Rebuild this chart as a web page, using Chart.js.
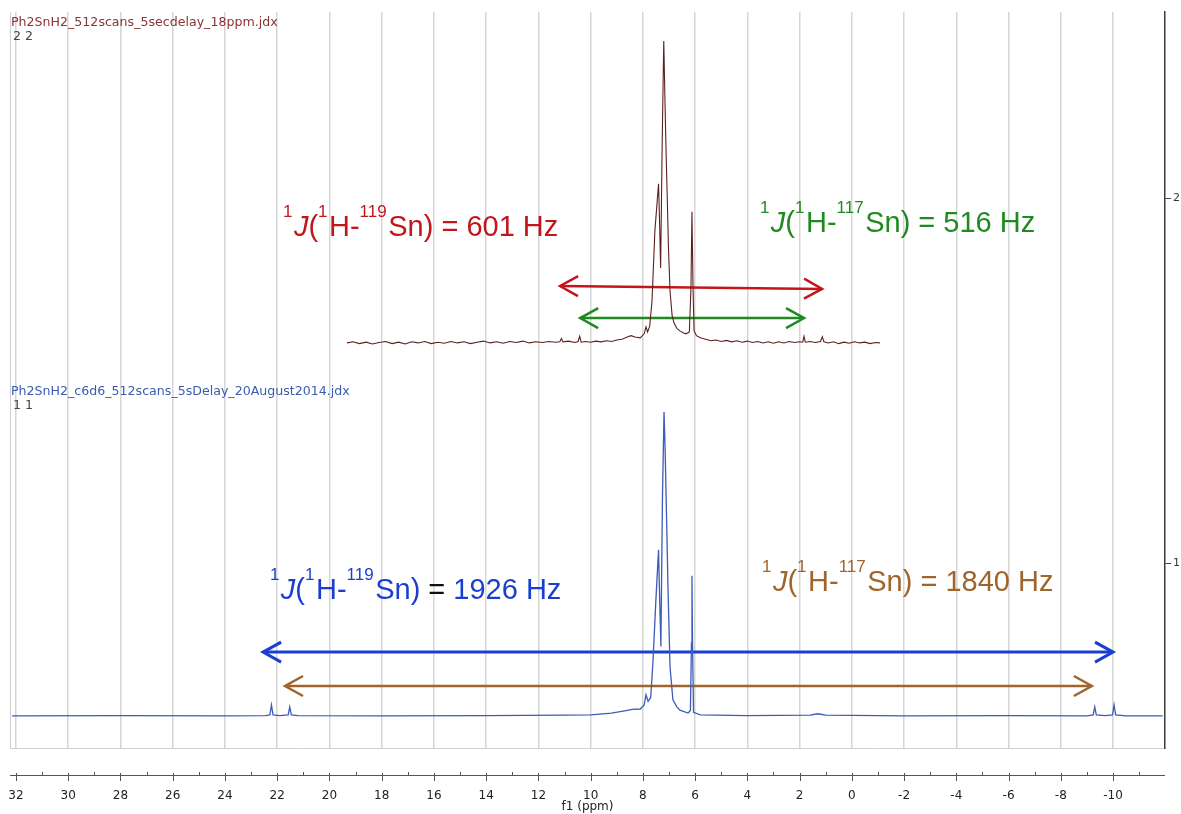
<!DOCTYPE html>
<html>
<head>
<meta charset="utf-8">
<title>Ph2SnH2 1H NMR</title>
<script src="https://cdn.jsdelivr.net/npm/chart.js@4.4.1/dist/chart.umd.min.js"></script>
<style>
html, body { margin: 0; padding: 0; background: #fff; }
</style>
</head>
<body>
<canvas id="nmrChart" width="1181" height="814"></canvas>
<script>
// f1 axis in ppm, shown high -> low
var ppmTicks = [32, 30, 28, 26, 24, 22, 20, 18, 16, 14, 12, 10, 8, 6, 4, 2, 0, -2, -4, -6, -8, -10];
var ppmMin = -11.99;
var ppmMax = 32.23;

// stacked spectra: index on the right axis
var traceTicks = [1, 2];
var traceTickLabels = ['1', '2'];
var traceNames = ['Ph2SnH2_c6d6_512scans_5sDelay_20August2014.jdx', 'Ph2SnH2_512scans_5secdelay_18ppm.jdx'];
var traceIds = ['1 1', '2 2'];
var traceColors = ['#3d5bb8', '#5e1f1f'];
var traceTitleColors = ['#3a5cb0', '#8a3434'];
var traceBaselines = [0.581, 1.603];
var traceTitleLevels = [1.460, 2.471];

// [ppm, intensity above baseline]
var bottomSpectrum = [
  [32.15, 0.000], [28.0, 0.001], [24.0, 0.000], [22.45, 0.001], [22.28, 0.003], [22.22, 0.030],
  [22.16, 0.003], [21.9, 0.001], [21.58, 0.003], [21.52, 0.025], [21.46, 0.003], [21.2, 0.001],
  [18.0, 0.000], [14.0, 0.001], [11.0, 0.002], [10.0, 0.003], [9.2, 0.008], [8.7, 0.014],
  [8.4, 0.018], [8.1, 0.019], [7.95, 0.030], [7.88, 0.058], [7.80, 0.040], [7.70, 0.050],
  [7.61, 0.153], [7.50, 0.320], [7.40, 0.455], [7.36, 0.330], [7.31, 0.190], [7.25, 0.600],
  [7.19, 0.833], [7.15, 0.734], [7.08, 0.500], [7.04, 0.353], [6.96, 0.134], [6.85, 0.044],
  [6.70, 0.025], [6.58, 0.016], [6.27, 0.008], [6.18, 0.015], [6.14, 0.200], [6.12, 0.384],
  [6.10, 0.200], [6.06, 0.010], [5.8, 0.003], [4.0, 0.001], [1.6, 0.002], [1.3, 0.006],
  [1.0, 0.002], [-2.0, 0.000], [-6.0, 0.001], [-9.0, 0.000], [-9.24, 0.003], [-9.30, 0.025],
  [-9.36, 0.003], [-9.7, 0.001], [-9.98, 0.003], [-10.04, 0.030], [-10.10, 0.003], [-10.5, 0.000],
  [-11.9, 0.000]
];

var topSpectrum = [
  [19.33, 0.000], [19.1, 0.003], [18.85, -0.002], [18.6, 0.002], [18.35, -0.003], [18.1, 0.001],
  [17.85, 0.004], [17.6, -0.002], [17.35, 0.002], [17.1, -0.003], [16.85, 0.003], [16.6, 0.000],
  [16.35, 0.004], [16.1, -0.002], [15.85, 0.002], [15.6, -0.001], [15.35, 0.004], [15.1, 0.000],
  [14.85, 0.003], [14.6, -0.002], [14.35, 0.002], [14.1, 0.005], [13.85, 0.000], [13.6, 0.003],
  [13.35, -0.001], [13.1, 0.004], [12.85, 0.001], [12.6, 0.005], [12.35, 0.000], [12.1, 0.003],
  [11.85, 0.001], [11.6, 0.004], [11.35, 0.002], [11.18, 0.003], [11.12, 0.012], [11.06, 0.003],
  [10.85, 0.005], [10.6, 0.001], [10.48, 0.004], [10.42, 0.018], [10.36, 0.002], [10.2, 0.004],
  [10.0, 0.002], [9.8, 0.005], [9.6, 0.003], [9.4, 0.006], [9.2, 0.004], [9.0, 0.008],
  [8.8, 0.010], [8.6, 0.016], [8.45, 0.020], [8.3, 0.016], [8.1, 0.014], [7.95, 0.025],
  [7.88, 0.044], [7.82, 0.030], [7.74, 0.045], [7.65, 0.115], [7.54, 0.307], [7.40, 0.436],
  [7.36, 0.330], [7.32, 0.205], [7.26, 0.550], [7.20, 0.827], [7.15, 0.650], [7.11, 0.518],
  [7.07, 0.408], [7.02, 0.260], [6.96, 0.142], [6.88, 0.075], [6.81, 0.055], [6.70, 0.040],
  [6.58, 0.033], [6.46, 0.028], [6.35, 0.025], [6.22, 0.030], [6.16, 0.150], [6.12, 0.359],
  [6.08, 0.150], [6.04, 0.033], [5.95, 0.020], [5.8, 0.014], [5.6, 0.010], [5.4, 0.006],
  [5.2, 0.008], [5.0, 0.004], [4.8, 0.007], [4.6, 0.003], [4.4, 0.006], [4.2, 0.002],
  [4.0, 0.005], [3.8, 0.001], [3.6, 0.004], [3.4, 0.000], [3.2, 0.003], [3.0, -0.001],
  [2.8, 0.003], [2.6, 0.000], [2.4, 0.004], [2.2, 0.001], [2.0, 0.003], [1.88, 0.002],
  [1.83, 0.018], [1.78, 0.002], [1.6, 0.004], [1.4, 0.001], [1.2, 0.004], [1.13, 0.017],
  [1.07, 0.003], [0.9, 0.000], [0.7, 0.003], [0.5, -0.002], [0.3, 0.002], [0.1, -0.001],
  [-0.1, 0.003], [-0.3, 0.000], [-0.5, 0.002], [-0.7, -0.002], [-0.9, 0.001], [-1.08, 0.000]
];

// 1J(1H-Sn) couplings: satellite span arrows and their labels
var couplingIsotopes = ['119', '117', '119', '117'];
var couplingValues = ['601 Hz', '516 Hz', '1926 Hz', '1840 Hz'];
var couplingColors = ['#c3161c', '#1f8a1f', '#1a3fd0', '#a0652c'];
var arrowFrom = [11.17, 10.40, 22.54, 21.70];
var arrowTo = [1.14, 1.83, -10.00, -9.19];
var arrowLevelFrom = [1.759, 1.671, 0.756, 0.663];
var arrowLevelTo = [1.751, 1.671, 0.756, 0.663];
var arrowWidths = [2.5, 2.5, 3, 2.5];
var labelPpm = [21.78, 3.52, 22.28, 3.44];
var labelLevel = [1.896, 1.907, 0.901, 0.923];

var ctx = document.getElementById('nmrChart').getContext('2d');

function spectrumPoints(points, baseline) {
  return points.map(function (p) { return { x: p[0], y: baseline + p[1] }; });
}

var datasets = [
  { label: traceNames[0], data: spectrumPoints(bottomSpectrum, traceBaselines[0]), borderColor: traceColors[0], borderWidth: 1.3, pointRadius: 0 },
  { label: traceNames[1], data: spectrumPoints(topSpectrum, traceBaselines[1]), borderColor: traceColors[1], borderWidth: 1.1, pointRadius: 0 }
];
for (var i = 0; i < arrowFrom.length; i++) {
  datasets.push({
    label: couplingValues[i],
    data: [{ x: arrowFrom[i], y: arrowLevelFrom[i] }, { x: arrowTo[i], y: arrowLevelTo[i] }],
    borderColor: couplingColors[i],
    borderWidth: arrowWidths[i],
    pointRadius: 0,
    isArrow: true
  });
}

function drawHead(c, tip, from, color, w) {
  var ang = Math.atan2(tip.y - from.y, tip.x - from.x);
  var back = 18, half = 10;
  c.save();
  c.translate(tip.x, tip.y);
  c.rotate(ang);
  c.strokeStyle = color;
  c.lineWidth = w;
  c.lineJoin = 'miter';
  c.beginPath();
  c.moveTo(-back, -half);
  c.lineTo(0, 0);
  c.lineTo(-back, half);
  c.stroke();
  c.restore();
}

var arrowHeads = {
  id: 'arrowHeads',
  afterDatasetsDraw: function (chart) {
    var c = chart.ctx;
    chart.data.datasets.forEach(function (ds, k) {
      if (!ds.isArrow) return;
      var pts = chart.getDatasetMeta(k).data;
      drawHead(c, pts[0], pts[1], ds.borderColor, ds.borderWidth);
      drawHead(c, pts[1], pts[0], ds.borderColor, ds.borderWidth);
    });
  }
};

// label like  1J(1H-119Sn) = 601 Hz with raised isotope numbers
function drawCoupling(c, x, y, iso, value, color, eqColor) {
  var main = '29px "Liberation Sans", Arial, sans-serif';
  var sup = '17px "Liberation Sans", Arial, sans-serif';
  var parts = [
    { t: '1', f: sup, s: true }, { t: 'J', f: 'italic ' + main }, { t: '(', f: main },
    { t: '1', f: sup, s: true }, { t: 'H-', f: main }, { t: iso, f: sup, s: true },
    { t: 'Sn)', f: main }, { t: ' = ', f: main, eq: true }, { t: value, f: main }
  ];
  c.save();
  c.textBaseline = 'alphabetic';
  c.textAlign = 'left';
  parts.forEach(function (p) {
    c.font = p.f;
    c.fillStyle = p.eq ? eqColor : color;
    c.fillText(p.t, x, p.s ? y - 19 : y);
    x += c.measureText(p.t).width + (p.s ? 1.5 : 0);
  });
  c.restore();
}

var annotations = {
  id: 'annotations',
  afterDatasetsDraw: function (chart) {
    var c = chart.ctx, xs = chart.scales.x, ys = chart.scales.y;
    for (var k = 0; k < couplingValues.length; k++) {
      drawCoupling(c, xs.getPixelForValue(labelPpm[k]), ys.getPixelForValue(labelLevel[k]),
        couplingIsotopes[k], couplingValues[k], couplingColors[k], k === 2 ? '#111' : couplingColors[k]);
    }
    c.save();
    c.font = '12.6px "DejaVu Sans", Tahoma, sans-serif';
    c.textBaseline = 'alphabetic';
    for (var t = 0; t < traceNames.length; t++) {
      var ty = ys.getPixelForValue(traceTitleLevels[t]);
      c.fillStyle = traceTitleColors[t];
      c.fillText(traceNames[t], chart.chartArea.left + 1, ty);
      c.fillStyle = '#444';
      c.fillText(traceIds[t], chart.chartArea.left + 3, ty + 14);
    }
    c.restore();
  }
};

// separate f1 ruler under the frame, with minor ticks at odd ppm
var ppmRuler = {
  id: 'ppmRuler',
  afterDraw: function (chart) {
    var c = chart.ctx, xs = chart.scales.x, area = chart.chartArea;
    var y = xs.top + 27;
    c.save();
    c.strokeStyle = '#d0d0d0';
    c.lineWidth = 1;
    c.beginPath();
    c.moveTo(area.left + 0.5, area.top);
    c.lineTo(area.left + 0.5, area.bottom);
    c.stroke();
    c.strokeStyle = '#555';
    c.beginPath();
    c.moveTo(area.left, y + 0.5);
    c.lineTo(area.right, y + 0.5);
    for (var v = Math.ceil(ppmMin); v <= Math.floor(ppmMax); v++) {
      var px = Math.round(xs.getPixelForValue(v)) + 0.5;
      if (v % 2 === 0) {
        c.moveTo(px, y - 2);
        c.lineTo(px, y + 6);
      } else {
        c.moveTo(px, y - 3);
        c.lineTo(px, y);
      }
    }
    c.stroke();
    c.restore();
  }
};

var nmrChart = new Chart(ctx, {
  type: 'line',
  data: { datasets: datasets },
  options: {
    responsive: false,
    animation: false,
    layout: { padding: { left: 10, top: 12, right: 0, bottom: 0 } },
    plugins: { legend: { display: false }, tooltip: { enabled: false } },
    elements: { line: { tension: 0 } },
    scales: {
      x: {
        type: 'linear',
        reverse: true,
        min: ppmMin,
        max: ppmMax,
        afterBuildTicks: function (s) { s.ticks = ppmTicks.map(function (v) { return { value: v }; }); },
        afterFit: function (s) { s.height = 66; s.paddingLeft = 0; s.paddingRight = 0; },
        grid: { color: '#d6d6d6', lineWidth: 1.5, drawTicks: false },
        border: { display: true, color: '#d0d0d0', width: 1 },
        ticks: { padding: 41, color: '#222', maxRotation: 0, autoSkip: false, font: { family: 'DejaVu Sans', size: 12 } },
        title: { display: true, text: 'f1 (ppm)', color: '#222', padding: { top: 0, bottom: 0 }, font: { family: 'DejaVu Sans', size: 12 } }
      },
      y: {
        position: 'right',
        min: 0.4932,
        max: 2.5096,
        afterBuildTicks: function (s) { s.ticks = traceTicks.map(function (v) { return { value: v }; }); },
        afterFit: function (s) { s.width = 16; s.paddingTop = 0; s.paddingBottom = 0; },
        grid: { drawOnChartArea: false, drawTicks: true, tickLength: 6, color: '#444' },
        border: { display: true, color: '#3a3a3a', width: 1.5 },
        ticks: {
          padding: 2, color: '#333', font: { family: 'DejaVu Sans', size: 11 },
          callback: function (v, idx) { return traceTickLabels[idx]; }
        }
      }
    }
  },
  plugins: [arrowHeads, annotations, ppmRuler]
});
</script>
</body>
</html>
